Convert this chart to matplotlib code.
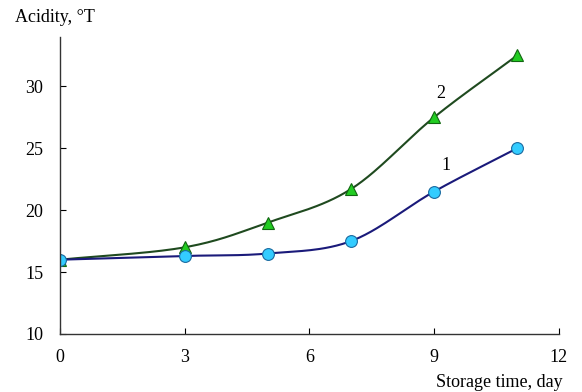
import numpy as np
from matplotlib import pyplot as plt

days = [0, 3, 5, 7, 9, 11]
acidity_1 = [16.0, 16.3, 16.5, 17.5, 21.5, 25.0]
acidity_2 = [16.0, 17.0, 19.0, 21.7, 27.5, 32.5]
x_ticks = [0, 3, 6, 9, 12]
y_ticks = [10, 15, 20, 25, 30]

plt.rcParams['font.family'] = ['Liberation Serif', 'DejaVu Serif']


def smooth(x, y, n=30):
    # catmull-rom through the points, like a spreadsheet "smoothed line"
    x = np.asarray(x, float)
    y = np.asarray(y, float)
    px = np.concatenate([[2*x[0]-x[1]], x, [2*x[-1]-x[-2]]])
    py = np.concatenate([[2*y[0]-y[1]], y, [2*y[-1]-y[-2]]])
    xs, ys = [], []
    t = np.linspace(0, 1, n)
    for i in range(1, len(px)-2):
        for p, out in ((px, xs), (py, ys)):
            p0, p1, p2, p3 = p[i-1], p[i], p[i+1], p[i+2]
            c = 0.5*((2*p1) + (-p0+p2)*t + (2*p0-5*p1+4*p2-p3)*t**2 + (-p0+3*p1-3*p2+p3)*t**3)
            out.extend(c)
    return np.array(xs), np.array(ys)


fig = plt.figure(figsize=(5.82, 3.92), dpi=100)
ax = fig.add_axes([0.103, 0.148, 0.857, 0.758])

sx, sy = smooth(days, acidity_2)
ax.plot(sx, sy, color='#1f4a1f', lw=1.5)
ax.plot(days, acidity_2, ls='none', marker='^', ms=8.5, mfc='#22cc22', mec='#116611', mew=0.8)

sx, sy = smooth(days, acidity_1)
ax.plot(sx, sy, color='#1a1a7a', lw=1.5)
ax.plot(days, acidity_1, ls='none', marker='o', ms=8.5, mfc='#33ccff', mec='#1a6aa0', mew=0.8)

ax.text(9.15, 29.4, '2', fontsize=13, ha='center', va='center')
ax.text(9.28, 23.6, '1', fontsize=13, ha='center', va='center')

ax.set_xlim(0, 12)
ax.set_ylim(10, 34)
ax.set_xticks(x_ticks)
ax.set_yticks(y_ticks)
ax.tick_params(direction='in', length=4, labelsize=13, pad=12)
ax.tick_params(axis='x', pad=11)
for s in ['top', 'right']:
    ax.spines[s].set_visible(False)
for s in ['left', 'bottom']:
    ax.spines[s].set_color('#333333')
    ax.spines[s].set_linewidth(1.0)

fig.text(0.026, 0.955, 'Acidity, °T', fontsize=13, ha='left', va='center')
fig.text(0.966, 0.025, 'Storage time, day', fontsize=13, ha='right', va='center')

fig.savefig('out.png', dpi=100)
